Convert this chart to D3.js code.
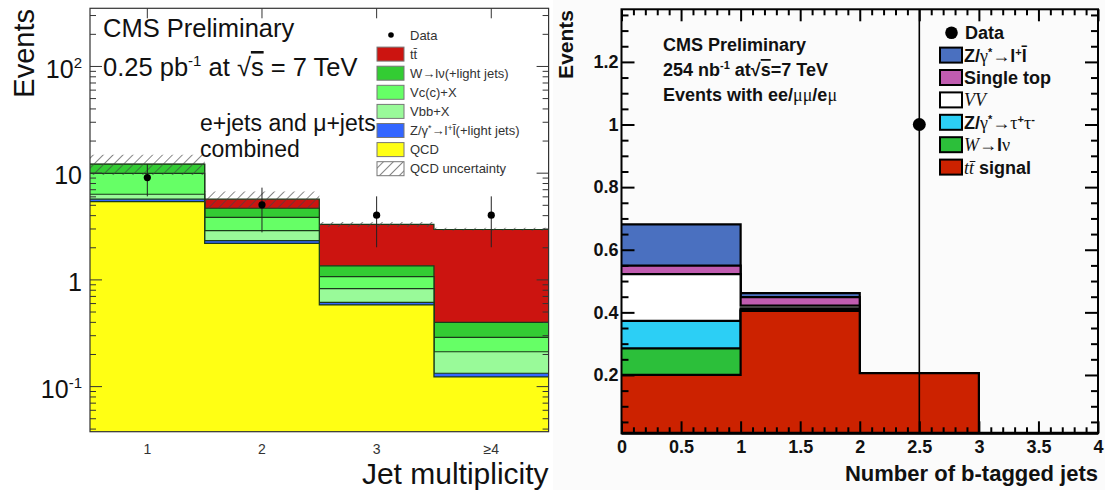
<!DOCTYPE html>
<html>
<head>
<meta charset="utf-8">
<script src="https://cdn.jsdelivr.net/npm/d3@7"></script>
<style>
  body { margin: 0; background: #fff; }
  text { font-family: "Liberation Sans", Arial, Helvetica, sans-serif; }
</style>
</head>
<body>
<svg id="chart" width="1105" height="490"></svg>
<script>
// ---- left plot: jet multiplicity (log scale) ----
const jetBins = ["1", "2", "3", "≥4"];
const jetQCD = [5.35, 2.18, 0.577, 0.122];
const jetZll = [0.29, 0.13, 0.033, 0.01];
const jetVbb = [0.64, 0.55, 0.21, 0.078];
const jetVc = [3.59, 0.96, 0.24, 0.076];
const jetWlv = [2.13, 0.82, 0.28, 0.11];
const jetTT = [0.05, 1.0, 1.94, 2.54];
const jetData = [9, 5, 4, 4];
const jetDataErr = [3, 2.24, 2, 2];
const qcdBandLo = [9.5, 4.65, 3.1, 2.85];
const qcdBandHi = [14.7, 6.65, 3.45, 3.05];
const jetYTicks = [0.1, 1, 10, 100];

const jetKeys = ["qcd", "zll", "vbb", "vc", "wlv", "tt"];
const jetColors = {qcd: "#ffff14", zll: "#3366ff", vbb: "#99fa99", vc: "#66ff66", wlv: "#33cc33", tt: "#cc1410"};
const jetLegend = [
    {key: "tt", label: "tt&#772;"},
    {key: "wlv", label: "W→lν(+light jets)"},
    {key: "vc", label: "Vc(c)+X"},
    {key: "vbb", label: "Vbb+X"},
    {key: "zll", label: "Z/γ<tspan dy='-4' font-size='9'>*</tspan><tspan dy='4'>→l</tspan><tspan dy='-4' font-size='9'>+</tspan><tspan dy='4'>l&#772;(+light jets)</tspan>"},
    {key: "qcd", label: "QCD"},
    {key: "hatch", label: "QCD uncertainty"}
];

// ---- right plot: number of b-tagged jets ----
const btagBins = [0, 1, 2, 3];
const btagTT = [0.2, 0.4045, 0.2055, 0];
const btagW = [0.085, 0.004, 0, 0];
const btagTauTau = [0.0875, 0.004, 0, 0];
const btagVV = [0.1495, 0.009, 0, 0];
const btagSingleTop = [0.027, 0.027, 0, 0];
const btagZll = [0.132, 0.013, 0, 0];
const btagData = [0, 0, 1, 0];
const btagDataErr = [0, 0, 1, 0];
const btagXTicks = [0, 0.5, 1, 1.5, 2, 2.5, 3, 3.5, 4];
const btagYTicks = [0.2, 0.4, 0.6, 0.8, 1, 1.2];

const btagKeys = ["tt", "w", "tautau", "vv", "stop", "zll"];
const btagColors = {tt: "#cc2200", w: "#2cbf3a", tautau: "#2ccff5", vv: "#ffffff", stop: "#c05cb0", zll: "#4a70c0"};
const serif = "font-family='Liberation Serif' font-weight='normal'";
const btagLegend = [
    {key: "zll", label: "Z/<tspan " + serif + ">γ</tspan><tspan dy='-6' font-size='11'>*</tspan><tspan dy='6'>→</tspan>l<tspan dy='-6' font-size='11'>+</tspan><tspan dy='6'>l&#772;</tspan>"},
    {key: "stop", label: "Single top"},
    {key: "vv", label: "<tspan " + serif + " font-style='italic'>VV</tspan>"},
    {key: "tautau", label: "Z/<tspan " + serif + ">γ</tspan><tspan dy='-6' font-size='11'>*</tspan><tspan dy='6'>→</tspan><tspan " + serif + ">τ</tspan><tspan dy='-6' font-size='11'>+</tspan><tspan dy='6' " + serif + ">τ</tspan><tspan dy='-6' font-size='11'>-</tspan>"},
    {key: "w", label: "<tspan " + serif + " font-style='italic'>W</tspan><tspan>→</tspan>l<tspan " + serif + ">ν</tspan>"},
    {key: "tt", label: "<tspan " + serif + " font-style='italic'>tt&#772;</tspan> signal"}
];

const svg = d3.select("#chart");
const defs = svg.append("defs");
defs.append("pattern")
    .attr("id", "hatch")
    .attr("patternUnits", "userSpaceOnUse")
    .attr("width", 7).attr("height", 7)
    .attr("patternTransform", "rotate(45)")
  .append("line")
    .attr("x1", 0).attr("y1", 0).attr("x2", 0).attr("y2", 7)
    .attr("stroke", "#444").attr("stroke-width", 1.3);

function stepPoints(vals, edges) {
    // [x, value] pairs for a step outline starting at each bin's left edge
    let pts = vals.map((v, i) => [edges[i], v]);
    pts.push([edges[edges.length - 1], vals[vals.length - 1]]);
    return pts;
}

function superLog(d) {
    if (d === 1) return "1";
    if (d === 10) return "10";
    let e = Math.round(Math.log10(d));
    return "10<tspan dy='-10' font-size='15'>" + e + "</tspan>";
}

// ================= LEFT =================
function drawJetPlot() {
    const m = {left: 90, right: 548.6, top: 8.3, bottom: 431.7};
    const x = d3.scaleBand().domain(jetBins).range([m.left, m.right]);
    const y = d3.scaleLog().domain([0.0374, 347]).range([m.bottom, m.top]);
    const edges = jetBins.map(b => x(b)).concat([m.right]);

    defs.append("clipPath").attr("id", "clipJet")
      .append("rect").attr("x", m.left).attr("y", m.top)
        .attr("width", m.right - m.left).attr("height", m.bottom - m.top);

    const rows = jetBins.map((b, i) => ({
        bin: b, qcd: jetQCD[i], zll: jetZll[i], vbb: jetVbb[i],
        vc: jetVc[i], wlv: jetWlv[i], tt: jetTT[i]
    }));
    const stack = d3.stack().keys(jetKeys)(rows);

    const g = svg.append("g").attr("clip-path", "url(#clipJet)");

    const area = d3.area()
        .curve(d3.curveStepAfter)
        .x(p => p[0])
        .y0(m.bottom + 5)
        .y1(p => y(p[1]));
    const line = d3.line()
        .curve(d3.curveStepAfter)
        .x(p => p[0])
        .y(p => y(p[1]));

    // ROOT style: draw cumulative histograms from the top one down
    stack.slice().reverse().forEach(layer => {
        let pts = stepPoints(layer.map(d => d[1]), edges);
        g.append("path")
            .attr("d", area(pts))
            .style("fill", jetColors[layer.key]);
        g.append("path")
            .attr("d", line(pts))
            .style("fill", "none")
            .style("stroke", "#1a3a1a")
            .style("stroke-width", 1.2);
    });

    // QCD uncertainty band
    const band = d3.area()
        .curve(d3.curveStepAfter)
        .x(p => p[0])
        .y0(p => y(p[1]))
        .y1(p => y(p[2]));
    let bandPts = qcdBandLo.map((v, i) => [edges[i], v, qcdBandHi[i]]);
    bandPts.push([m.right, qcdBandLo[3], qcdBandHi[3]]);
    g.append("path")
        .attr("d", band(bandPts))
        .style("fill", "url(#hatch)");

    // data
    const cx = b => x(b) + x.bandwidth() / 2;
    g.selectAll(".jeterr")
        .data(jetBins)
        .join("line")
        .attr("x1", cx).attr("x2", cx)
        .attr("y1", (b, i) => y(jetData[i] + jetDataErr[i]))
        .attr("y2", (b, i) => y(jetData[i] - jetDataErr[i]))
        .style("stroke", "#222").style("stroke-width", 1);
    g.selectAll(".jetpt")
        .data(jetBins)
        .join("circle")
        .attr("cx", cx)
        .attr("cy", (b, i) => y(jetData[i]))
        .attr("r", 3.6)
        .style("fill", "#000");

    // ticks
    const minor = y.ticks().filter(t => jetYTicks.indexOf(t) < 0);
    const tickStyle = sel => {
        sel.select(".domain").remove();
        sel.selectAll("line").style("stroke", "#333");
    };
    svg.append("g").attr("transform", "translate(" + m.left + ",0)")
        .call(d3.axisRight(y).tickValues(jetYTicks).tickSize(12).tickFormat(""))
        .call(tickStyle);
    svg.append("g").attr("transform", "translate(" + m.left + ",0)")
        .call(d3.axisRight(y).tickValues(minor).tickSize(6).tickFormat(""))
        .call(tickStyle);
    svg.append("g").attr("transform", "translate(" + m.right + ",0)")
        .call(d3.axisLeft(y).tickValues(jetYTicks).tickSize(12).tickFormat(""))
        .call(tickStyle);
    svg.append("g").attr("transform", "translate(" + m.right + ",0)")
        .call(d3.axisLeft(y).tickValues(minor).tickSize(6).tickFormat(""))
        .call(tickStyle);
    svg.append("g").attr("transform", "translate(0," + m.top + ")")
        .call(d3.axisBottom(x).tickSize(10).tickFormat(""))
        .call(tickStyle);

    // tick labels
    const yLab = svg.append("g").attr("transform", "translate(" + (m.left - 8) + ",0)")
        .call(d3.axisLeft(y).tickValues(jetYTicks).tickSize(0).tickPadding(0));
    yLab.select(".domain").remove();
    yLab.selectAll("text")
        .html(d => superLog(d))
        .attr("dy", "0.45em")
        .style("font-size", "25px")
        .style("font-family", "'Liberation Sans', Arial, sans-serif")
        .style("fill", "#111");

    const xLab = svg.append("g").attr("transform", "translate(0," + m.bottom + ")")
        .call(d3.axisBottom(x).tickSize(0).tickPadding(12));
    xLab.select(".domain").remove();
    xLab.selectAll("text")
        .style("font-size", "14px")
        .style("font-family", "'Liberation Sans', Arial, sans-serif")
        .style("fill", "#333");

    // frame
    svg.append("rect")
        .attr("x", m.left).attr("y", m.top)
        .attr("width", m.right - m.left).attr("height", m.bottom - m.top)
        .style("fill", "none").style("stroke", "#333").style("stroke-width", 1.2);

    // titles
    svg.append("text")
        .attr("transform", "translate(34,9) rotate(-90)")
        .attr("text-anchor", "end")
        .style("font-size", "29px")
        .style("fill", "#111")
        .text("Events");
    svg.append("text")
        .attr("x", m.right).attr("y", 484)
        .attr("text-anchor", "end")
        .style("font-size", "30px")
        .style("fill", "#111")
        .text("Jet multiplicity");

    svg.append("text")
        .attr("x", 103).attr("y", 37)
        .style("font-size", "25.5px").style("fill", "#111")
        .text("CMS Preliminary");
    svg.append("text")
        .attr("x", 103).attr("y", 76)
        .style("font-size", "25.5px").style("fill", "#111")
        .html("0.25 pb<tspan dy='-10' font-size='15'>-1</tspan><tspan dy='10'> at </tspan>√<tspan text-decoration='overline'>s</tspan> = 7 TeV");
    svg.append("text")
        .attr("x", 200).attr("y", 131)
        .style("font-size", "23px").style("fill", "#111")
        .text("e+jets and μ+jets");
    svg.append("text")
        .attr("x", 200).attr("y", 157)
        .style("font-size", "23px").style("fill", "#111")
        .text("combined");

    // legend
    const lg = svg.append("g");
    const rowY = i => 35 + i * 19.1;
    lg.append("circle").attr("cx", 391).attr("cy", rowY(0)).attr("r", 2.8).style("fill", "#000");
    lg.append("text").attr("x", 410).attr("y", rowY(0)).attr("dy", "0.35em")
        .style("font-size", "13px").style("fill", "#333").text("Data");
    jetLegend.forEach((e, i) => {
        lg.append("rect")
            .attr("x", 377).attr("y", rowY(i + 1) - 7)
            .attr("width", 27).attr("height", 14)
            .style("fill", e.key === "hatch" ? "url(#hatch)" : jetColors[e.key])
            .style("stroke", "#777").style("stroke-width", 1);
        lg.append("text")
            .attr("x", 410).attr("y", rowY(i + 1)).attr("dy", "0.35em")
            .style("font-size", "13px").style("fill", "#333")
            .html(e.label);
    });
}

// ================= RIGHT =================
function drawBtagPlot() {
    const m = {left: 621.5, right: 1098, top: 9.3, bottom: 433.3};
    const x = d3.scaleLinear().domain([0, 4]).range([m.left, m.right]);
    const y = d3.scaleLinear().domain([0.0137, 1.368]).range([m.bottom, m.top]);
    const edges = btagBins.map(b => x(b)).concat([x(4)]);

    svg.append("rect")
        .attr("x", 553).attr("y", 0).attr("width", 552).attr("height", 490)
        .style("fill", "#fbfbfb");

    defs.append("clipPath").attr("id", "clipBtag")
      .append("rect").attr("x", m.left).attr("y", m.top)
        .attr("width", m.right - m.left).attr("height", m.bottom - m.top);

    const rows = btagBins.map((b, i) => ({
        bin: b, tt: btagTT[i], w: btagW[i], tautau: btagTauTau[i],
        vv: btagVV[i], stop: btagSingleTop[i], zll: btagZll[i]
    }));
    const stack = d3.stack().keys(btagKeys)(rows);

    const g = svg.append("g").attr("clip-path", "url(#clipBtag)");
    const area = d3.area()
        .curve(d3.curveStepAfter)
        .x(p => p[0])
        .y0(m.bottom + 5)
        .y1(p => y(p[1]));
    const line = d3.line()
        .curve(d3.curveStepAfter)
        .x(p => p[0])
        .y(p => y(p[1]));

    stack.slice().reverse().forEach(layer => {
        let vals = layer.map(d => d[1]);
        let pts = stepPoints(vals, edges);
        g.append("path")
            .attr("d", area(pts))
            .style("fill", btagColors[layer.key]);
        g.append("path")
            .attr("d", line(pts))
            .style("fill", "none")
            .style("stroke", "#000")
            .style("stroke-width", 2.2);
    });

    // data
    const cx = b => x(b + 0.5);
    const shown = btagBins.filter((b, i) => btagData[i] > 0);
    g.selectAll(".btagerr")
        .data(shown)
        .join("line")
        .attr("x1", cx).attr("x2", cx)
        .attr("y1", b => y(btagData[b] + btagDataErr[b]))
        .attr("y2", b => y(btagData[b] - btagDataErr[b]) + 10)
        .style("stroke", "#000").style("stroke-width", 1.6);
    g.selectAll(".btagpt")
        .data(shown)
        .join("circle")
        .attr("cx", cx)
        .attr("cy", b => y(btagData[b]))
        .attr("r", 6.5)
        .style("fill", "#000");

    // ticks
    const tickStyle = sel => {
        sel.select(".domain").remove();
        sel.selectAll("line").style("stroke", "#000").style("stroke-width", 2);
    };
    const yMinor = d3.range(0.05, 1.37, 0.05).filter(t => btagYTicks.every(v => Math.abs(v - t) > 1e-6));
    const xMinor = d3.range(0, 4.001, 0.1).filter(t => btagXTicks.every(v => Math.abs(v - t) > 1e-6));
    svg.append("g").attr("transform", "translate(" + m.left + ",0)")
        .call(d3.axisRight(y).tickValues(btagYTicks).tickSize(13).tickFormat("")).call(tickStyle);
    svg.append("g").attr("transform", "translate(" + m.left + ",0)")
        .call(d3.axisRight(y).tickValues(yMinor).tickSize(7).tickFormat("")).call(tickStyle);
    svg.append("g").attr("transform", "translate(" + m.right + ",0)")
        .call(d3.axisLeft(y).tickValues(btagYTicks).tickSize(13).tickFormat("")).call(tickStyle);
    svg.append("g").attr("transform", "translate(" + m.right + ",0)")
        .call(d3.axisLeft(y).tickValues(yMinor).tickSize(7).tickFormat("")).call(tickStyle);
    svg.append("g").attr("transform", "translate(0," + m.bottom + ")")
        .call(d3.axisTop(x).tickValues(btagXTicks).tickSize(12).tickFormat("")).call(tickStyle);
    svg.append("g").attr("transform", "translate(0," + m.bottom + ")")
        .call(d3.axisTop(x).tickValues(xMinor).tickSize(6).tickFormat("")).call(tickStyle);
    svg.append("g").attr("transform", "translate(0," + m.top + ")")
        .call(d3.axisBottom(x).tickValues(btagXTicks).tickSize(12).tickFormat("")).call(tickStyle);
    svg.append("g").attr("transform", "translate(0," + m.top + ")")
        .call(d3.axisBottom(x).tickValues(xMinor).tickSize(6).tickFormat("")).call(tickStyle);

    const fmt = d3.format("~g");
    const yLab = svg.append("g").attr("transform", "translate(" + (m.left - 3) + ",0)")
        .call(d3.axisLeft(y).tickValues(btagYTicks).tickSize(0).tickPadding(0).tickFormat(fmt));
    yLab.select(".domain").remove();
    yLab.selectAll("text")
        .style("font-size", "18px").style("font-weight", "bold")
        .style("font-family", "'Liberation Sans', Arial, sans-serif").style("fill", "#111");
    const xLab = svg.append("g").attr("transform", "translate(0," + m.bottom + ")")
        .call(d3.axisBottom(x).tickValues(btagXTicks).tickSize(0).tickPadding(7).tickFormat(fmt));
    xLab.select(".domain").remove();
    xLab.selectAll("text")
        .style("font-size", "18px").style("font-weight", "bold")
        .style("font-family", "'Liberation Sans', Arial, sans-serif").style("fill", "#111");

    // frame
    svg.append("rect")
        .attr("x", m.left).attr("y", m.top)
        .attr("width", m.right - m.left).attr("height", m.bottom - m.top)
        .style("fill", "none").style("stroke", "#000").style("stroke-width", 2);
    svg.append("line")
        .attr("x1", m.left).attr("x2", m.right)
        .attr("y1", m.bottom).attr("y2", m.bottom)
        .style("stroke", "#000").style("stroke-width", 3);

    // titles
    svg.append("text")
        .attr("transform", "translate(573,10) rotate(-90)")
        .attr("text-anchor", "end")
        .style("font-size", "21px").style("font-weight", "bold").style("fill", "#111")
        .text("Events");
    svg.append("text")
        .attr("x", m.right).attr("y", 481)
        .attr("text-anchor", "end")
        .style("font-size", "22px").style("font-weight", "bold").style("fill", "#111")
        .text("Number of b-tagged jets");

    const info = svg.append("g").style("font-size", "18px").style("font-weight", "bold").style("fill", "#111");
    info.append("text").attr("x", 663).attr("y", 51).text("CMS Preliminary");
    info.append("text").attr("x", 663).attr("y", 76)
        .html("254 nb<tspan dy='-7' font-size='11'>-1</tspan><tspan dy='7'> at</tspan>√<tspan text-decoration='overline'>s</tspan>=7 TeV");
    info.append("text").attr("x", 663).attr("y", 101)
        .html("Events with ee/<tspan " + serif + ">μμ</tspan>/e<tspan " + serif + ">μ</tspan>");

    // legend
    const lg = svg.append("g");
    const rowY = i => 32.7 + i * 22.4;
    lg.append("circle").attr("cx", 951.5).attr("cy", rowY(0)).attr("r", 6.3).style("fill", "#000");
    lg.append("text").attr("x", 965).attr("y", rowY(0)).attr("dy", "0.36em")
        .style("font-size", "18px").style("font-weight", "bold").style("fill", "#111")
        .text("Data");
    btagLegend.forEach((e, i) => {
        lg.append("rect")
            .attr("x", 940).attr("y", rowY(i + 1) - 7.5)
            .attr("width", 22).attr("height", 15)
            .style("fill", btagColors[e.key])
            .style("stroke", "#000").style("stroke-width", 2);
        lg.append("text")
            .attr("x", 964).attr("y", rowY(i + 1)).attr("dy", "0.36em")
            .style("font-size", "18px").style("font-weight", "bold").style("fill", "#111")
            .html(e.label);
    });
}

drawJetPlot();
drawBtagPlot();
</script>
</body>
</html>
